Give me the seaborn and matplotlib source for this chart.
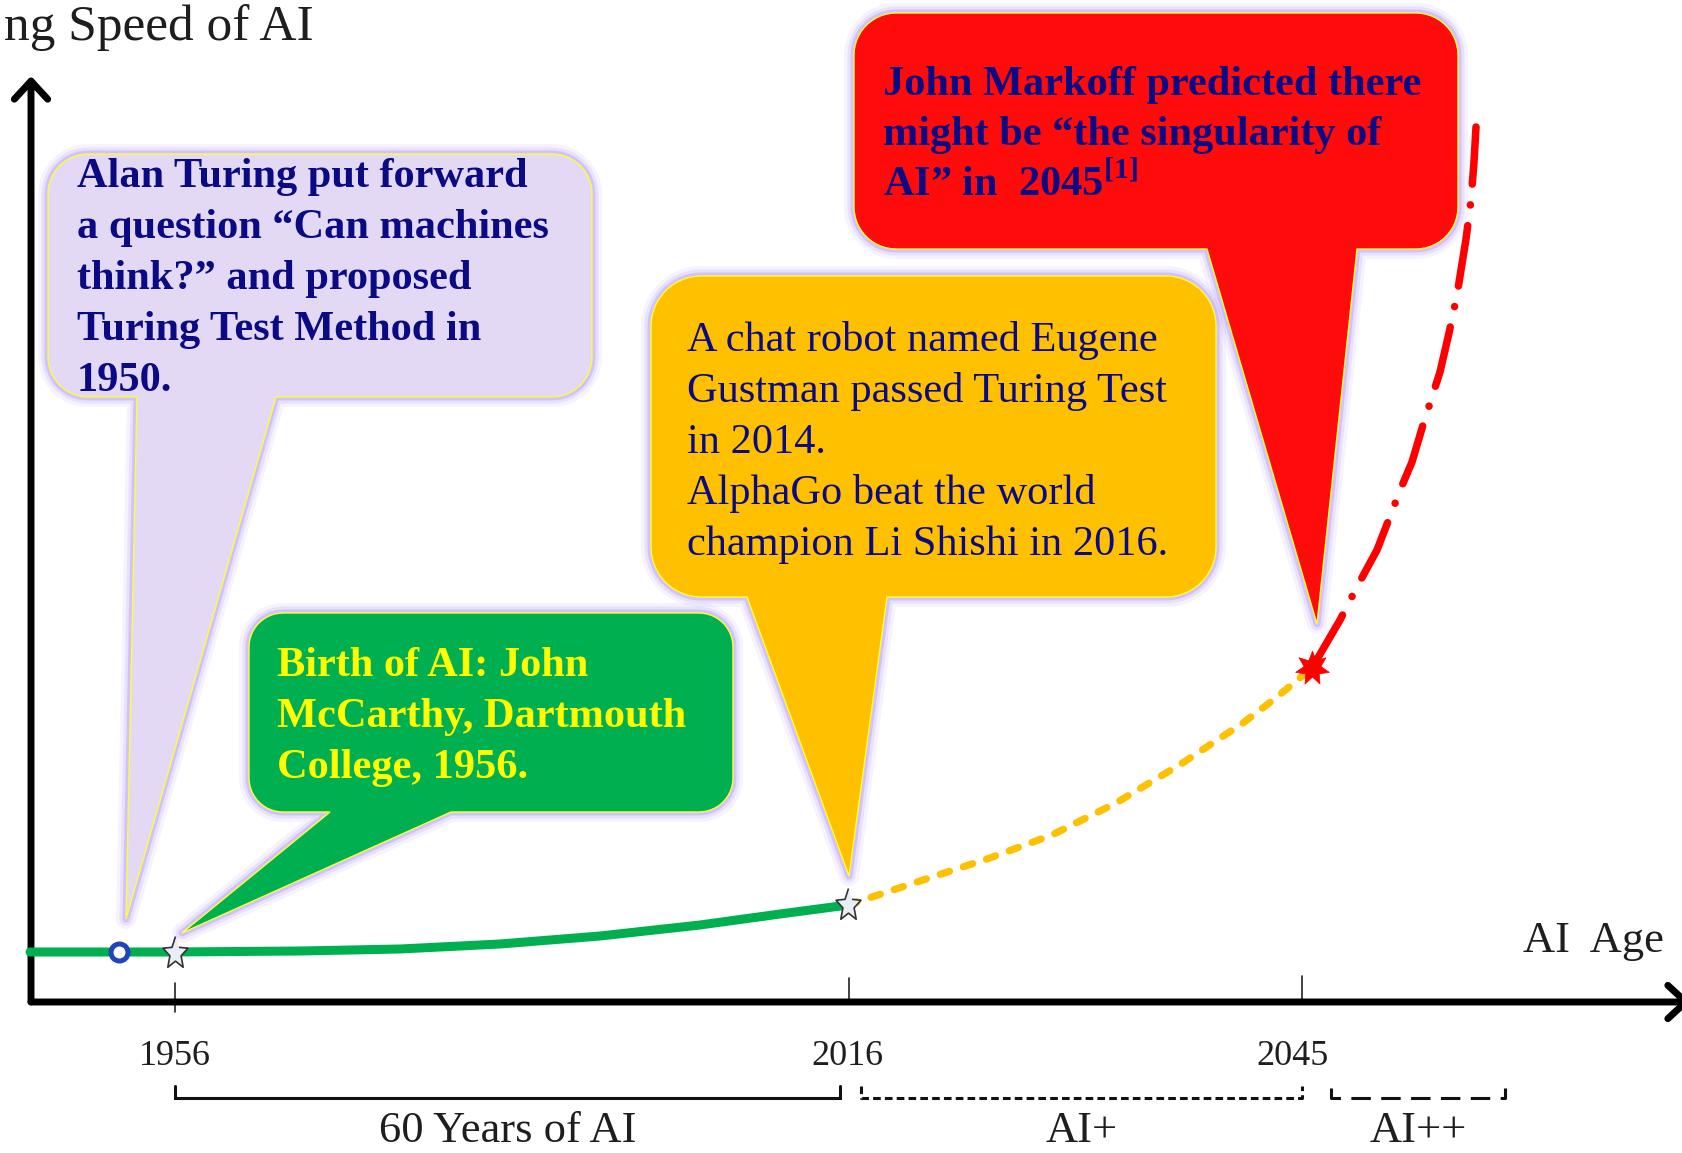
"""Schematic of AI development speed with callout bubbles."""
import numpy as np
import matplotlib

matplotlib.use("Agg")
import matplotlib.pyplot as plt
import seaborn as sns
from matplotlib.patches import Polygon, FancyArrowPatch
from matplotlib.path import Path

# schematic curve, traced in canvas pixels (y grows downward)
green_x = [30, 172, 300, 400, 500, 600, 700, 780, 848]
green_y = [952, 952, 951, 949, 944, 936, 925, 914, 905]
orange_x = [848, 923, 987, 1052, 1116, 1181, 1243, 1277, 1295, 1312]
orange_y = [905, 880, 859, 835, 803, 764, 723, 697, 682, 668]
red_x = [1312, 1340, 1358, 1377, 1401, 1412, 1423, 1440, 1449, 1457, 1466, 1471, 1474, 1476]
red_y = [668, 620, 585, 550, 488, 462, 425, 372, 333, 295, 239, 200, 162, 127]

years = ["1956", "2016", "2045"]
year_pos = [175, 849, 1302]
year_label_pos = [175, 847, 1293]
eras = ["60 Years of AI", "AI+", "AI++"]

turing_text = ["Alan Turing put forward", "a question \u201cCan machines",
               "think?\u201d and proposed", "Turing Test Method in", "1950."]
birth_text = ["Birth of AI: John", "McCarthy, Dartmouth", "College, 1956."]
chat_text = ["A chat robot named Eugene", "Gustman passed Turing Test",
             "in 2014.", "AlphaGo beat the world", "champion Li Shishi in 2016."]
markoff_text = ["John Markoff predicted there", "might be \u201cthe singularity of",
                "AI\u201d in  2045$^{\\mathbf{[1]}}$"]

W, H = 1683, 1153
PT = 0.72  # points per pixel at dpi 100
NAVY = "#0a0a84"
LABEL = "#1e1e1e"


def bubble_points(x0, y0, x1, y1, r, tl, tr, tip):
    def arc(cx, cy, a0, a1):
        t = np.radians(np.linspace(a0, a1, 14))
        return list(zip(cx + r * np.cos(t), cy + r * np.sin(t)))
    pts = arc(x1 - r, y0 + r, -90, 0) + arc(x1 - r, y1 - r, 0, 90)
    pts += [(tr, y1), tip, (tl, y1)]
    pts += arc(x0 + r, y1 - r, 90, 180) + arc(x0 + r, y0 + r, 180, 270)
    return pts


def draw_bubble(ax, pts, color):
    for lw, a in [(20, 0.10), (13, 0.18), (7, 0.35)]:
        ax.add_patch(Polygon(pts, closed=True, fill=False, ec="#a88cff",
                             lw=lw * PT, alpha=a, joinstyle="round", zorder=2))
    ax.add_patch(Polygon(pts, closed=True, fc=color, ec="#ffff33",
                         lw=1.0, zorder=2))


def write_lines(ax, x, y0, step, lines, color, weight):
    for i, line in enumerate(lines):
        ax.text(x, y0 + i * step, line, fontsize=30.5, color=color,
                fontweight=weight, va="baseline", ha="left", zorder=3)


def main():
    sns.set_style("white")
    plt.rcParams["font.family"] = ["Liberation Serif", "DejaVu Serif"]
    plt.rcParams["mathtext.fontset"] = "custom"
    plt.rcParams["mathtext.rm"] = "Liberation Serif"
    plt.rcParams["mathtext.bf"] = "Liberation Serif:bold"
    plt.rcParams["lines.scale_dashes"] = False

    fig = plt.figure(figsize=(W / 100, H / 100), dpi=100)
    ax = fig.add_axes([0, 0, 1, 1])
    ax.set_xlim(0, W)
    ax.set_ylim(H, 0)
    ax.axis("off")

    # axes arrows
    for start, end in [((31, 1002), (31, 76)), ((31, 1002), (1691, 1002))]:
        ax.add_patch(FancyArrowPatch(start, end, arrowstyle="->,head_length=1.3,head_width=1.2",
                                     mutation_scale=10, lw=5, color="black",
                                     capstyle="round", joinstyle="round",
                                     shrinkA=0, shrinkB=0, zorder=4))
    ax.text(4, 40, "ng Speed of AI", fontsize=37, color=LABEL, va="baseline")
    ax.text(1664, 952, "AI  Age", fontsize=32, color=LABEL, ha="right", va="baseline")

    # year ticks and labels
    tick_spans = [(983, 1012), (978, 1002), (976, 1002)]
    for label, xp, xl, (t0, t1) in zip(years, year_pos, year_label_pos, tick_spans):
        ax.plot([xp, xp], [t0, t1], color="#222222", lw=1.2)
        ax.text(xl, 1065, label, fontsize=26, color=LABEL, ha="center", va="baseline")

    # era brackets
    brackets = [(175, 840, 1086, "-", eras[0]),
                (861, 1302, 1086, (0, (5.5, 3.0)), eras[1]),
                (1331, 1505, 1088, (0, (14, 7.5)), eras[2])]
    for x0, x1, top, ls, label in brackets:
        ax.plot([x0, x0, x1, x1], [top, 1098, 1098, top], color="#111111",
                lw=2.2, linestyle=ls, solid_joinstyle="miter")
        ax.text((x0 + x1) / 2, 1142, label, fontsize=32, color=LABEL,
                ha="center", va="baseline")

    # callout bubbles
    draw_bubble(ax, bubble_points(48, 154, 592, 397, 40, 137, 276, (126, 919)), "#e3d9f5")
    write_lines(ax, 77, 187, 51, turing_text, NAVY, "bold")
    draw_bubble(ax, bubble_points(249, 613, 733, 812, 34, 330, 451, (182, 933)), "#00b050")
    write_lines(ax, 277, 676, 51, birth_text, "#ffff00", "bold")
    draw_bubble(ax, bubble_points(651, 276, 1216, 597, 50, 747, 887, (849, 876)), "#ffc000")
    write_lines(ax, 687, 351, 51, chat_text, NAVY, "normal")
    draw_bubble(ax, bubble_points(854, 13, 1458, 249, 42, 1207, 1357, (1317, 624)), "#fe0b0b")
    write_lines(ax, 883, 95, 50, markoff_text, NAVY, "bold")

    # speed curve
    sns.lineplot(x=green_x, y=green_y, sort=False, color="#00b050", lw=6.5,
                 ax=ax, zorder=5)
    ax.lines[-1].set_solid_capstyle("round")
    sns.lineplot(x=orange_x, y=orange_y, sort=False, color="#ffc000", lw=5.2,
                 ax=ax, zorder=5)
    ax.lines[-1].set_linestyle((0, (7, 10.5)))
    ax.lines[-1].set_dash_capstyle("round")
    sns.lineplot(x=red_x, y=red_y, sort=False, color="#ff0000", lw=5.4,
                 ax=ax, zorder=5)
    ax.lines[-1].set_linestyle((0, (44, 15, 0.1, 15)))
    ax.lines[-1].set_dash_capstyle("round")

    # milestones
    ang = np.radians(90 + 36 * np.arange(10))
    rad = np.where(np.arange(10) % 2 == 0, 1.0, 0.45)
    star = Path(np.column_stack([rad * np.cos(ang), rad * np.sin(ang) * 1.3]))
    sns.scatterplot(x=[119], y=[952], marker="o", s=150, color="white",
                    edgecolor="#2244bb", linewidth=3.6, ax=ax, zorder=6)
    sns.scatterplot(x=[175, 848], y=[953, 905], marker=star, s=600, color="#e8edf6",
                    edgecolor="#333333", linewidth=1.2, ax=ax, zorder=6)
    sns.scatterplot(x=[1312], y=[668], marker=(7, 1, 0), s=620, color="#ff0000",
                    edgecolor="#ff0000", linewidth=0.5, ax=ax, zorder=6)

    fig.savefig("out.png", dpi=100)
    return 0


if __name__ == "__main__":
    raise SystemExit(main())
